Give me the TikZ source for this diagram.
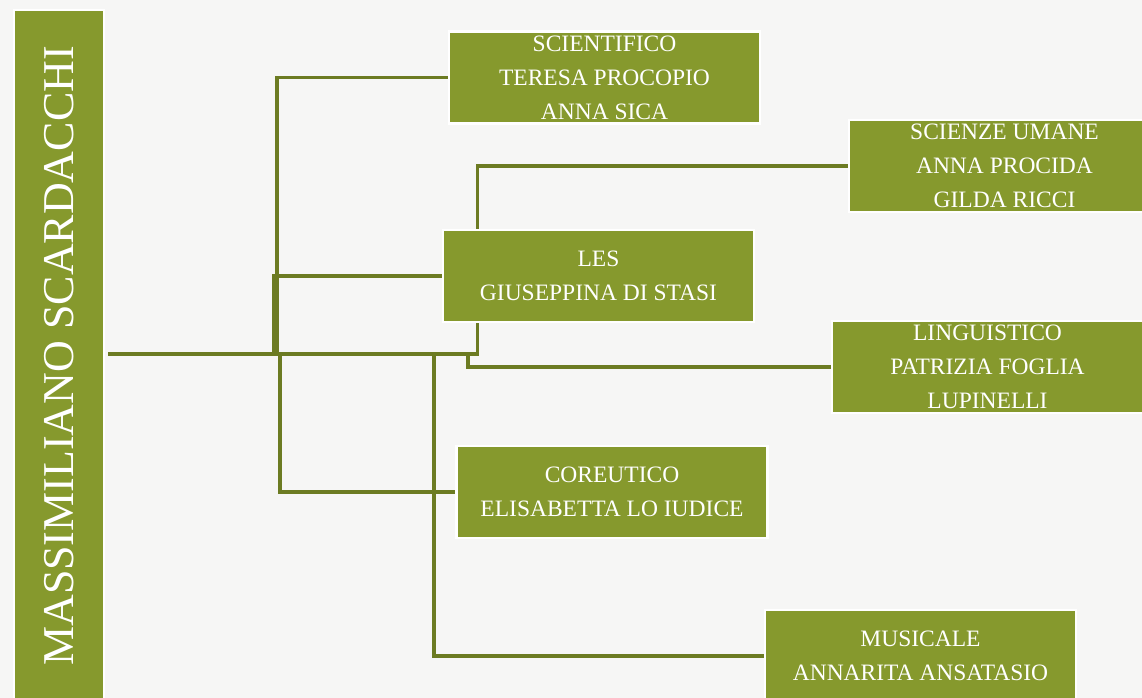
\documentclass[tikz,border=0pt]{standalone}
\usepackage{fontspec}
\setmainfont{Liberation Serif}
\usetikzlibrary{backgrounds}
\definecolor{paper}{HTML}{F6F6F5}
\definecolor{boxgreen}{HTML}{86992D}
\definecolor{linegreen}{HTML}{6C7B22}
\tikzset{
  branch/.style={fill=boxgreen, draw=white, line width=2.5pt, minimum width=311pt, minimum height=92pt,
    inner sep=0pt, align=center, text=white, font=\fontsize{23.5}{34}\selectfont},
  conn/.style={draw=linegreen, line width=3.2pt},
}
\begin{document}
\begin{tikzpicture}[x=1pt,y=-1pt]
\useasboundingbox (0,0) rectangle (1142,698);
\clip (0,0) rectangle (1142,698);
\node[branch, minimum width=90pt, minimum height=692pt] (mass) at (59,356) {};
\node[rotate=90, text=white, font=\fontsize{44}{50}\selectfont, inner sep=0pt] (masstxt) at (mass.center) {MASSIMILIANO SCARDACCHI};
\node[branch] (sci) at (604.5,77.5) {SCIENTIFICO\\TERESA PROCOPIO\\ANNA SICA};
\node[branch] (sun) at (1004.5,166) {SCIENZE UMANE\\ANNA PROCIDA\\GILDA RICCI};
\node[branch] (les) at (598.5,276) {LES\\GIUSEPPINA DI STASI};
\node[branch] (lin) at (987.5,367) {LINGUISTICO\\PATRIZIA FOGLIA\\LUPINELLI};
\node[branch] (cor) at (612,492) {COREUTICO\\ELISABETTA LO IUDICE};
\node[branch] (mus) at (920.5,656) {MUSICALE\\ANNARITA ANSATASIO};
\coordinate (j0) at (274,354);
\coordinate (j1) at (277,354);
\coordinate (j3) at (280,354);
\coordinate (j4) at (434,354);
\coordinate (j2) at (468,354);
\begin{scope}[on background layer]
\fill[paper] (0,0) rectangle (1142,698);
\draw[conn] ([xshift=3pt]mass.east |- j0) -| ([xshift=36pt]les.south west);
\draw[conn] ([xshift=36pt]les.north west) |- (sun.west);
\draw[conn] (j1) |- (sci.west);
\draw[conn, line width=4.5pt] (j0) |- (les.west);
\draw[conn] (j3) |- (cor.west);
\draw[conn] (j4) |- (mus.west);
\draw[conn] (j2) |- (lin.west);
\end{scope}
\end{tikzpicture}
\end{document}
